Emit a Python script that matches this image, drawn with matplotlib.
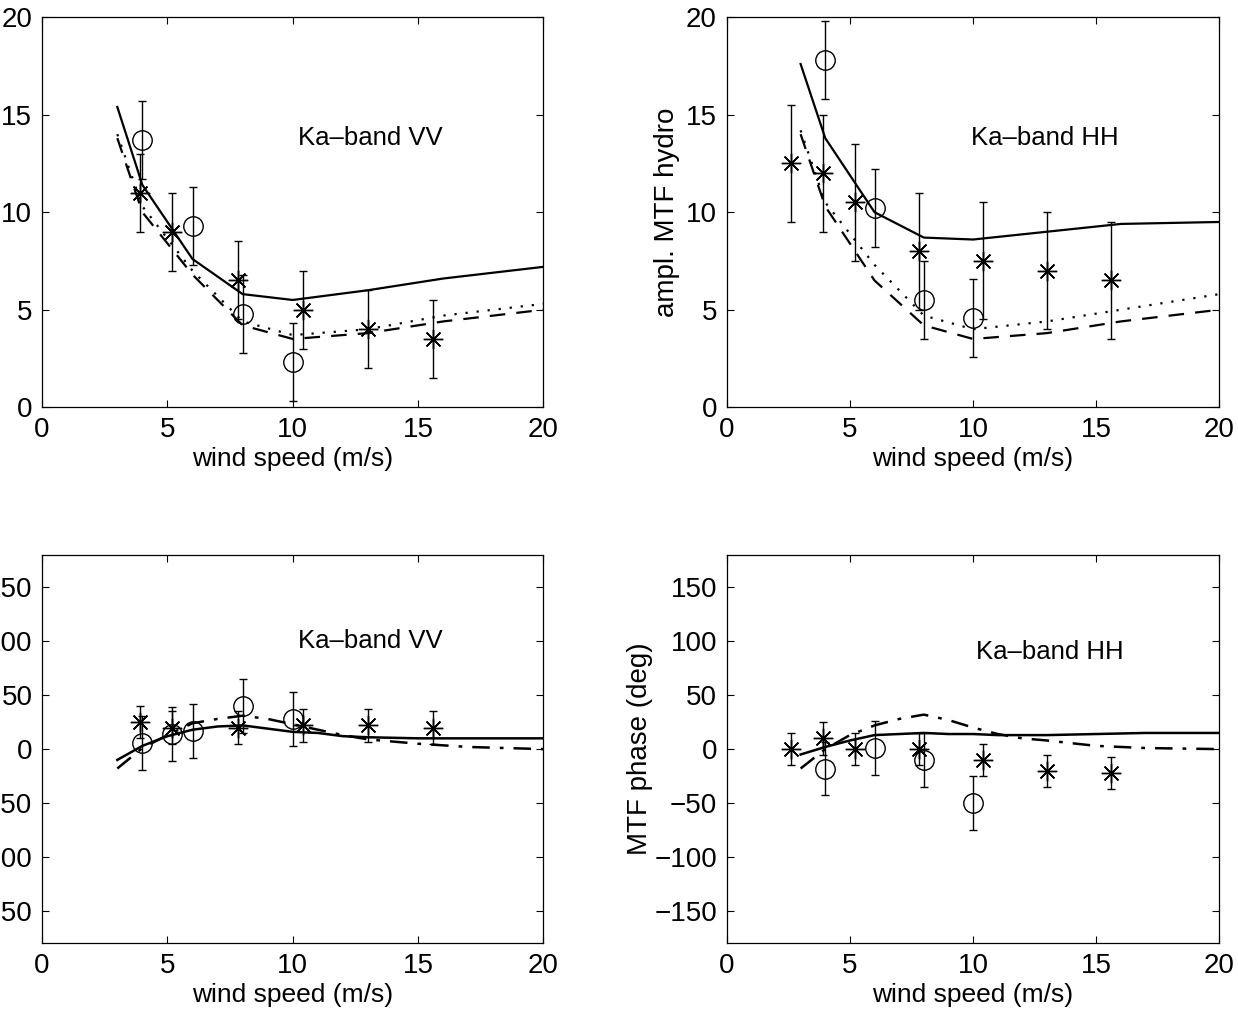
import numpy as np
import matplotlib
matplotlib.use("Agg")
import matplotlib.pyplot as plt

plt.rcParams["font.family"] = ["Liberation Sans", "DejaVu Sans"]

# model curves, amplitude (top row)
u_mod = [3, 4, 6, 8, 10, 13, 16, 20]
vv_amp_solid = [15.4, 11.4, 7.6, 5.8, 5.5, 6.0, 6.6, 7.2]
vv_amp_dash = [13.8, 10.0, 6.8, 4.2, 3.5, 3.8, 4.4, 5.0]
vv_amp_dot = [14.0, 10.3, 7.0, 4.4, 3.7, 4.0, 4.7, 5.3]
hh_amp_solid = [17.6, 13.8, 10.0, 8.7, 8.6, 9.0, 9.4, 9.5]
hh_amp_dash = [14.0, 10.3, 6.5, 4.2, 3.5, 3.8, 4.4, 5.0]
hh_amp_dot = [14.2, 10.5, 7.3, 4.7, 4.0, 4.4, 5.0, 5.8]

# model curves, phase (bottom row)
u_ph = [3, 4, 5, 6, 7, 8, 9, 10, 11, 12, 13, 15, 17, 20]
vv_ph_solid = [-10, 3, 12, 18, 21, 22, 19, 16, 15, 12, 11, 10, 10, 10]
vv_ph_dashdot = [-18, 1, 13, 24, 28, 31, 28, 23, 18, 13, 9, 5, 2, 0]
hh_ph_solid = [-5, 2, 8, 13, 14, 15, 14, 14, 13, 13, 13, 14, 15, 15]
hh_ph_dashdot = [-18, 0, 13, 22, 28, 32, 27, 20, 14, 10, 8, 3, 1, 0]

# measurements: stars and circles
u_star_vv = [3.9, 5.2, 7.8, 10.4, 13.0, 15.6]
u_star_hh = [2.6, 3.9, 5.2, 7.8, 10.4, 13.0, 15.6]
u_circ = [4.0, 6.0, 8.0, 10.0]

vv_amp_star = [11.0, 9.0, 6.5, 5.0, 4.0, 3.5]
vv_amp_circ = [13.7, 9.3, 4.8, 2.3]
hh_amp_star = [12.5, 12.0, 10.5, 8.0, 7.5, 7.0, 6.5]
hh_amp_circ = [17.8, 10.2, 5.5, 4.6]
amp_err_star = 2.0
amp_err_circ = 2.0
hh_amp_err_star = 3.0

vv_ph_star = [25, 20, 20, 22, 22, 20]
u_circ_vv_ph = [4.0, 5.2, 6.0, 8.0, 10.0]
vv_ph_circ = [6, 14, 17, 40, 28]
hh_ph_star = [0, 10, 0, 0, -10, -20, -22]
hh_ph_circ = [-18, 1, -10, -50]
ph_err_star = 15
ph_err_circ = 25

star = (8, 2, 0)

fig = plt.figure(figsize=(12.38, 10.13), dpi=100)
ax1 = fig.add_axes([0.034, 0.598, 0.405, 0.385])
ax2 = fig.add_axes([0.587, 0.598, 0.398, 0.385])
ax3 = fig.add_axes([0.034, 0.069, 0.405, 0.383])
ax4 = fig.add_axes([0.587, 0.069, 0.398, 0.383])


def points(ax, x, y, err, marker, ms):
    ax.errorbar(x, y, yerr=err, fmt="none", ecolor="black", elinewidth=1.0,
                capsize=3, capthick=1.0)
    if marker == "o":
        ax.plot(x, y, "o", mfc="none", mec="black", ms=ms, mew=1.0)
    else:
        ax.plot(x, y, ls="none", marker=marker, color="black", ms=ms, mew=1.0)


def style(ax, ylim, yticks):
    ax.set_xlim(0, 20)
    ax.set_ylim(*ylim)
    ax.set_xticks([0, 5, 10, 15, 20])
    ax.set_yticks(yticks)
    ax.tick_params(direction="in", top=True, right=True, labelsize=20,
                   length=5, width=0.8, pad=7)
    ax.set_xlabel("wind speed (m/s)", fontsize=19, labelpad=3)
    for s in ax.spines.values():
        s.set_linewidth(0.9)


for ax, solid, dash, dot, ys, yc, es, label in [
        (ax1, vv_amp_solid, vv_amp_dash, vv_amp_dot, vv_amp_star, vv_amp_circ,
         amp_err_star, "Ka\u2013band VV"),
        (ax2, hh_amp_solid, hh_amp_dash, hh_amp_dot, hh_amp_star, hh_amp_circ,
         hh_amp_err_star, "Ka\u2013band HH")]:
    ax.plot(u_mod, solid, color="black", lw=1.6)
    ax.plot(u_mod, dash, color="black", lw=1.6, ls=(0, (7, 5)))
    ax.plot(u_mod, dot, color="black", lw=1.6, ls=(0, (1, 4)))
    us = u_star_vv if ax is ax1 else u_star_hh
    points(ax, us, ys, es, star, 14)
    points(ax, u_circ, yc, amp_err_circ, "o", 14)
    style(ax, (0, 20), [0, 5, 10, 15, 20])
    ax.text(10.2 if ax is ax1 else 9.9, 13.8, label, fontsize=18.5, va="center")

ax2.set_ylabel("ampl. MTF hydro", fontsize=20)
ax2.yaxis.set_label_coords(-0.095, 0.5)

for ax, solid, dd, us, ys, uc, yc, label in [
        (ax3, vv_ph_solid, vv_ph_dashdot, u_star_vv, vv_ph_star,
         u_circ_vv_ph, vv_ph_circ, "Ka\u2013band VV"),
        (ax4, hh_ph_solid, hh_ph_dashdot, u_star_hh, hh_ph_star,
         u_circ, hh_ph_circ, "Ka\u2013band HH")]:
    ax.plot(u_ph, solid, color="black", lw=1.8)
    ax.plot(u_ph, dd, color="black", lw=1.8, ls=(0, (7, 4, 1.5, 4)))
    points(ax, us, ys, ph_err_star, star, 14)
    points(ax, uc, yc, ph_err_circ, "o", 14)
    style(ax, (-180, 180), [-150, -100, -50, 0, 50, 100, 150])
    ax.set_yticklabels(["\u2212150", "\u2212100", "\u221250", "0", "50", "100", "150"])
    ax.text(10.2 if ax is ax3 else 10.1, 100 if ax is ax3 else 90, label,
            fontsize=18.5, va="center")

ax4.set_ylabel("MTF phase (deg)", fontsize=20)
ax4.yaxis.set_label_coords(-0.15, 0.5)

fig.savefig("out.png", dpi=100)
